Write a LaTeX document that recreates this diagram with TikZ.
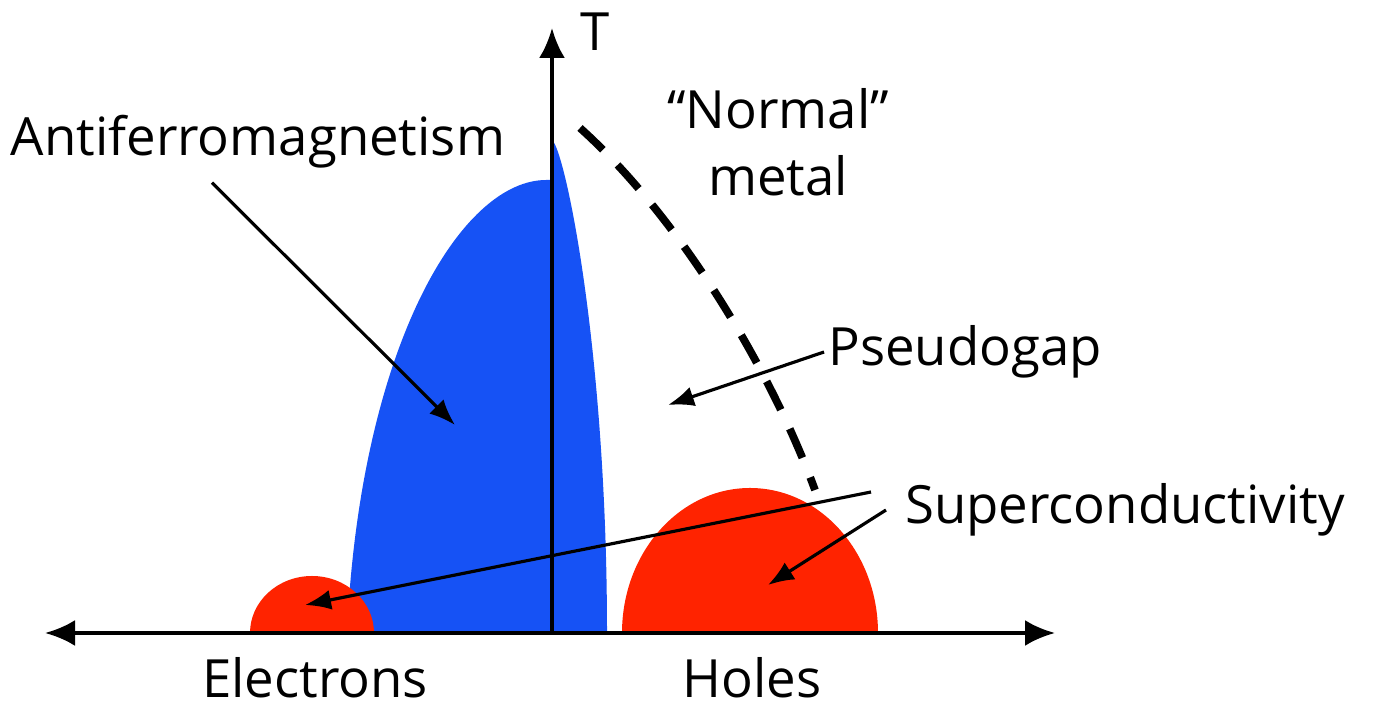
\documentclass[tikz,border=0pt]{standalone}
\usepackage{fontspec}
\setmainfont{Open Sans}
\usepackage{tikz}
\usetikzlibrary{arrows.meta}

\definecolor{afmblue}{RGB}{22,82,245}
\definecolor{scred}{RGB}{255,35,0}

\begin{document}
\begin{tikzpicture}[
  axis/.style={line width=1.1pt, {Latex[length=3mm,width=2.6mm]}-{Latex[length=3mm,width=2.6mm]}},
  lead/.style={line width=0.9pt, -{Latex[length=2.6mm,width=2mm]}},
  lbl/.style={font=\fontsize{15}{19}\selectfont, inner sep=1pt, align=center},
  dome/.style={fill=afmblue},
  sc/.style={fill=scred}
]
\useasboundingbox (0,0) rectangle (13.77,7.08);

% phases
\fill[dome] (3.47,0.75) .. controls (3.60,3.58) and (4.6,5.3) .. (5.48,5.28)
  -- (5.52,5.28) -- (5.52,5.68) .. controls (5.65,5.58) and (6.07,3.58) .. (6.07,0.75) -- cycle;
\fill[sc] (2.50,0.75) arc[start angle=180, end angle=0, x radius=0.62, y radius=0.57] -- cycle;
\fill[sc] (6.22,0.75) arc[start angle=180, end angle=0, x radius=1.28, y radius=1.45] -- cycle;

% axes
\coordinate (o) at (5.52,0.75);
\coordinate (left) at (0.45,0.75);
\coordinate (right) at (10.55,0.75);
\coordinate (top) at (5.52,6.80);
\draw[axis] (left) -- (right);
\draw[axis, {-Latex[length=3mm,width=2.6mm]}] (o) -- (top);

% crossover
\draw[line width=2.2pt, dash pattern=on 9pt off 6pt] (5.80,5.80) .. controls (6.8,4.9) and (7.7,3.4) .. (8.15,2.18);

% labels
\node[lbl] (t) at (5.95,6.76) {T};
\node[lbl] (afm) at (2.58,5.66) {Antiferromagnetism};
\node[lbl] (nm) at (7.78,5.66) {“Normal”\\metal};
\node[lbl] (pg) at (9.65,3.56) {Pseudogap};
\node[lbl] (sc) at (11.25,1.98) {Superconductivity};
\node[lbl] (el) at (3.15,0.30) {Electrons};
\node[lbl] (ho) at (7.52,0.30) {Holes};

\coordinate (afmpt) at (4.55,2.83);
\coordinate (pgpt) at (6.68,3.03);
\coordinate (scsmall) at (3.05,1.03);
\coordinate (scbig) at (7.68,1.23);

\draw[lead] ([xshift=-4.6mm,yshift=-1mm]afm.south) -- (afmpt);
\draw[lead] (pg.west) -- (pgpt);
\draw[lead] ([xshift=-3mm,yshift=1.8mm]sc.west) -- (scsmall);
\draw[lead] ([xshift=-1.5mm]sc.west) -- (scbig);
\end{tikzpicture}
\end{document}
